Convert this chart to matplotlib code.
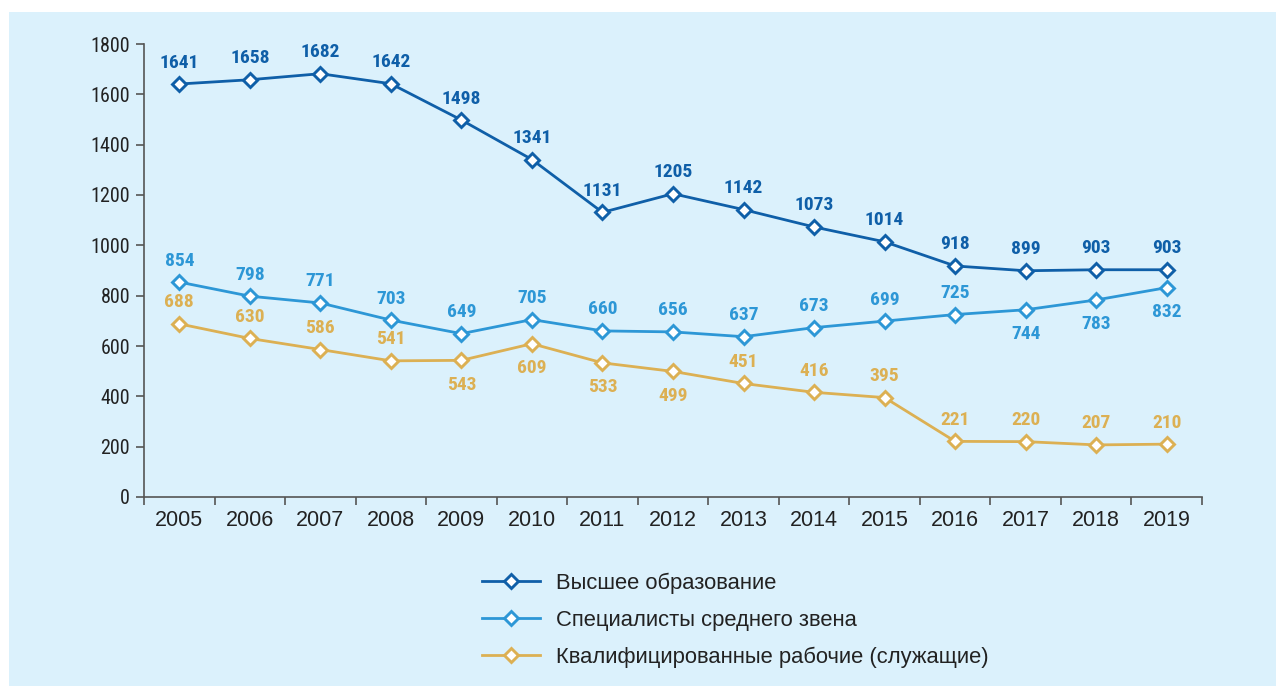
import numpy as np
import matplotlib.pyplot as plt
from matplotlib import font_manager

years = [2005, 2006, 2007, 2008, 2009, 2010, 2011, 2012, 2013, 2014, 2015, 2016, 2017, 2018, 2019]
higher = [1641, 1658, 1682, 1642, 1498, 1341, 1131, 1205, 1142, 1073, 1014, 918, 899, 903, 903]
middle = [854, 798, 771, 703, 649, 705, 660, 656, 637, 673, 699, 725, 744, 783, 832]
workers = [688, 630, 586, 541, 543, 609, 533, 499, 451, 416, 395, 221, 220, 207, 210]
series_names = ["Высшее образование", "Специалисты среднего звена",
                "Квалифицированные рабочие (служащие)"]

# which labels sit below their point
middle_below = [2017, 2018, 2019]
workers_below = [2009, 2010, 2011, 2012]

# pick a condensed face if there is one
available = {f.name for f in font_manager.fontManager.ttflist}
narrow = "Liberation Sans"
for cand in ["Liberation Sans Narrow", "Roboto Condensed", "DejaVu Sans Condensed", "Open Sans Condensed"]:
    if cand in available:
        narrow = cand
        break
lab_size = 12.5 if narrow == "Liberation Sans" else 14
ytick_size = 13 if narrow == "Liberation Sans" else 14.5

c_dark = "#0f5fa8"
c_mid = "#2d97d6"
c_gold = "#dcb053"
bg = "#dbf1fc"

fig = plt.figure(figsize=(12.76, 6.86), dpi=100)
fig.patches.append(plt.Rectangle((9 / 1276, 0), 1, 1 - 12 / 686, transform=fig.transFigure,
                                 facecolor=bg, edgecolor="none", zorder=-10))
ax = fig.add_axes([144 / 1276, 1 - 497 / 686, (1202 - 144) / 1276, (497 - 44) / 686])
ax.set_facecolor("none")

x = np.arange(len(years))
for vals, col, name, below in [(higher, c_dark, series_names[0], []),
                               (middle, c_mid, series_names[1], middle_below),
                               (workers, c_gold, series_names[2], workers_below)]:
    ax.plot(x, vals, color=col, lw=2, marker="D", ms=7.5, mfc="white", mec=col, mew=2.1,
            label=name, zorder=3, clip_on=False)
    for xi, yr, v in zip(x, years, vals):
        if yr in below:
            ax.annotate(str(v), (xi, v), xytext=(0, -11), textcoords="offset points",
                        ha="center", va="top", color=col, fontsize=lab_size,
                        fontweight="bold", family=narrow)
        else:
            ax.annotate(str(v), (xi, v), xytext=(0, 9), textcoords="offset points",
                        ha="center", va="bottom", color=col, fontsize=lab_size,
                        fontweight="bold", family=narrow)

ax.set_xlim(-0.5, len(years) - 0.5)
ax.set_ylim(0, 1800)
ax.set_yticks(range(0, 1801, 200))
ax.set_yticklabels([str(v) for v in range(0, 1801, 200)], family=narrow, fontsize=ytick_size, color="#222222")
ax.set_xticks(x)
ax.set_xticklabels([str(y) for y in years], family="Liberation Sans", fontsize=15.5, color="#222222")
ax.set_xticks(np.arange(-0.5, len(years), 1), minor=True)
ax.tick_params(axis="x", which="major", length=0, pad=9)
ax.tick_params(axis="x", which="minor", length=6, color="#555555", width=1.2)
ax.tick_params(axis="y", length=6, color="#555555", width=1.2, pad=4)
for s in ["top", "right"]:
    ax.spines[s].set_visible(False)
for s in ["left", "bottom"]:
    ax.spines[s].set_color("#555555")
    ax.spines[s].set_linewidth(1.2)

leg = fig.legend(loc="upper left", bbox_to_anchor=(462 / 1276, 1 - 553 / 686), frameon=False,
                 handlelength=2.65, handletextpad=0.75, labelspacing=0.72,
                 prop={"family": "Liberation Sans", "size": 15.8})
for t in leg.get_texts():
    t.set_color("#222222")

fig.savefig("out.png", dpi=100)
